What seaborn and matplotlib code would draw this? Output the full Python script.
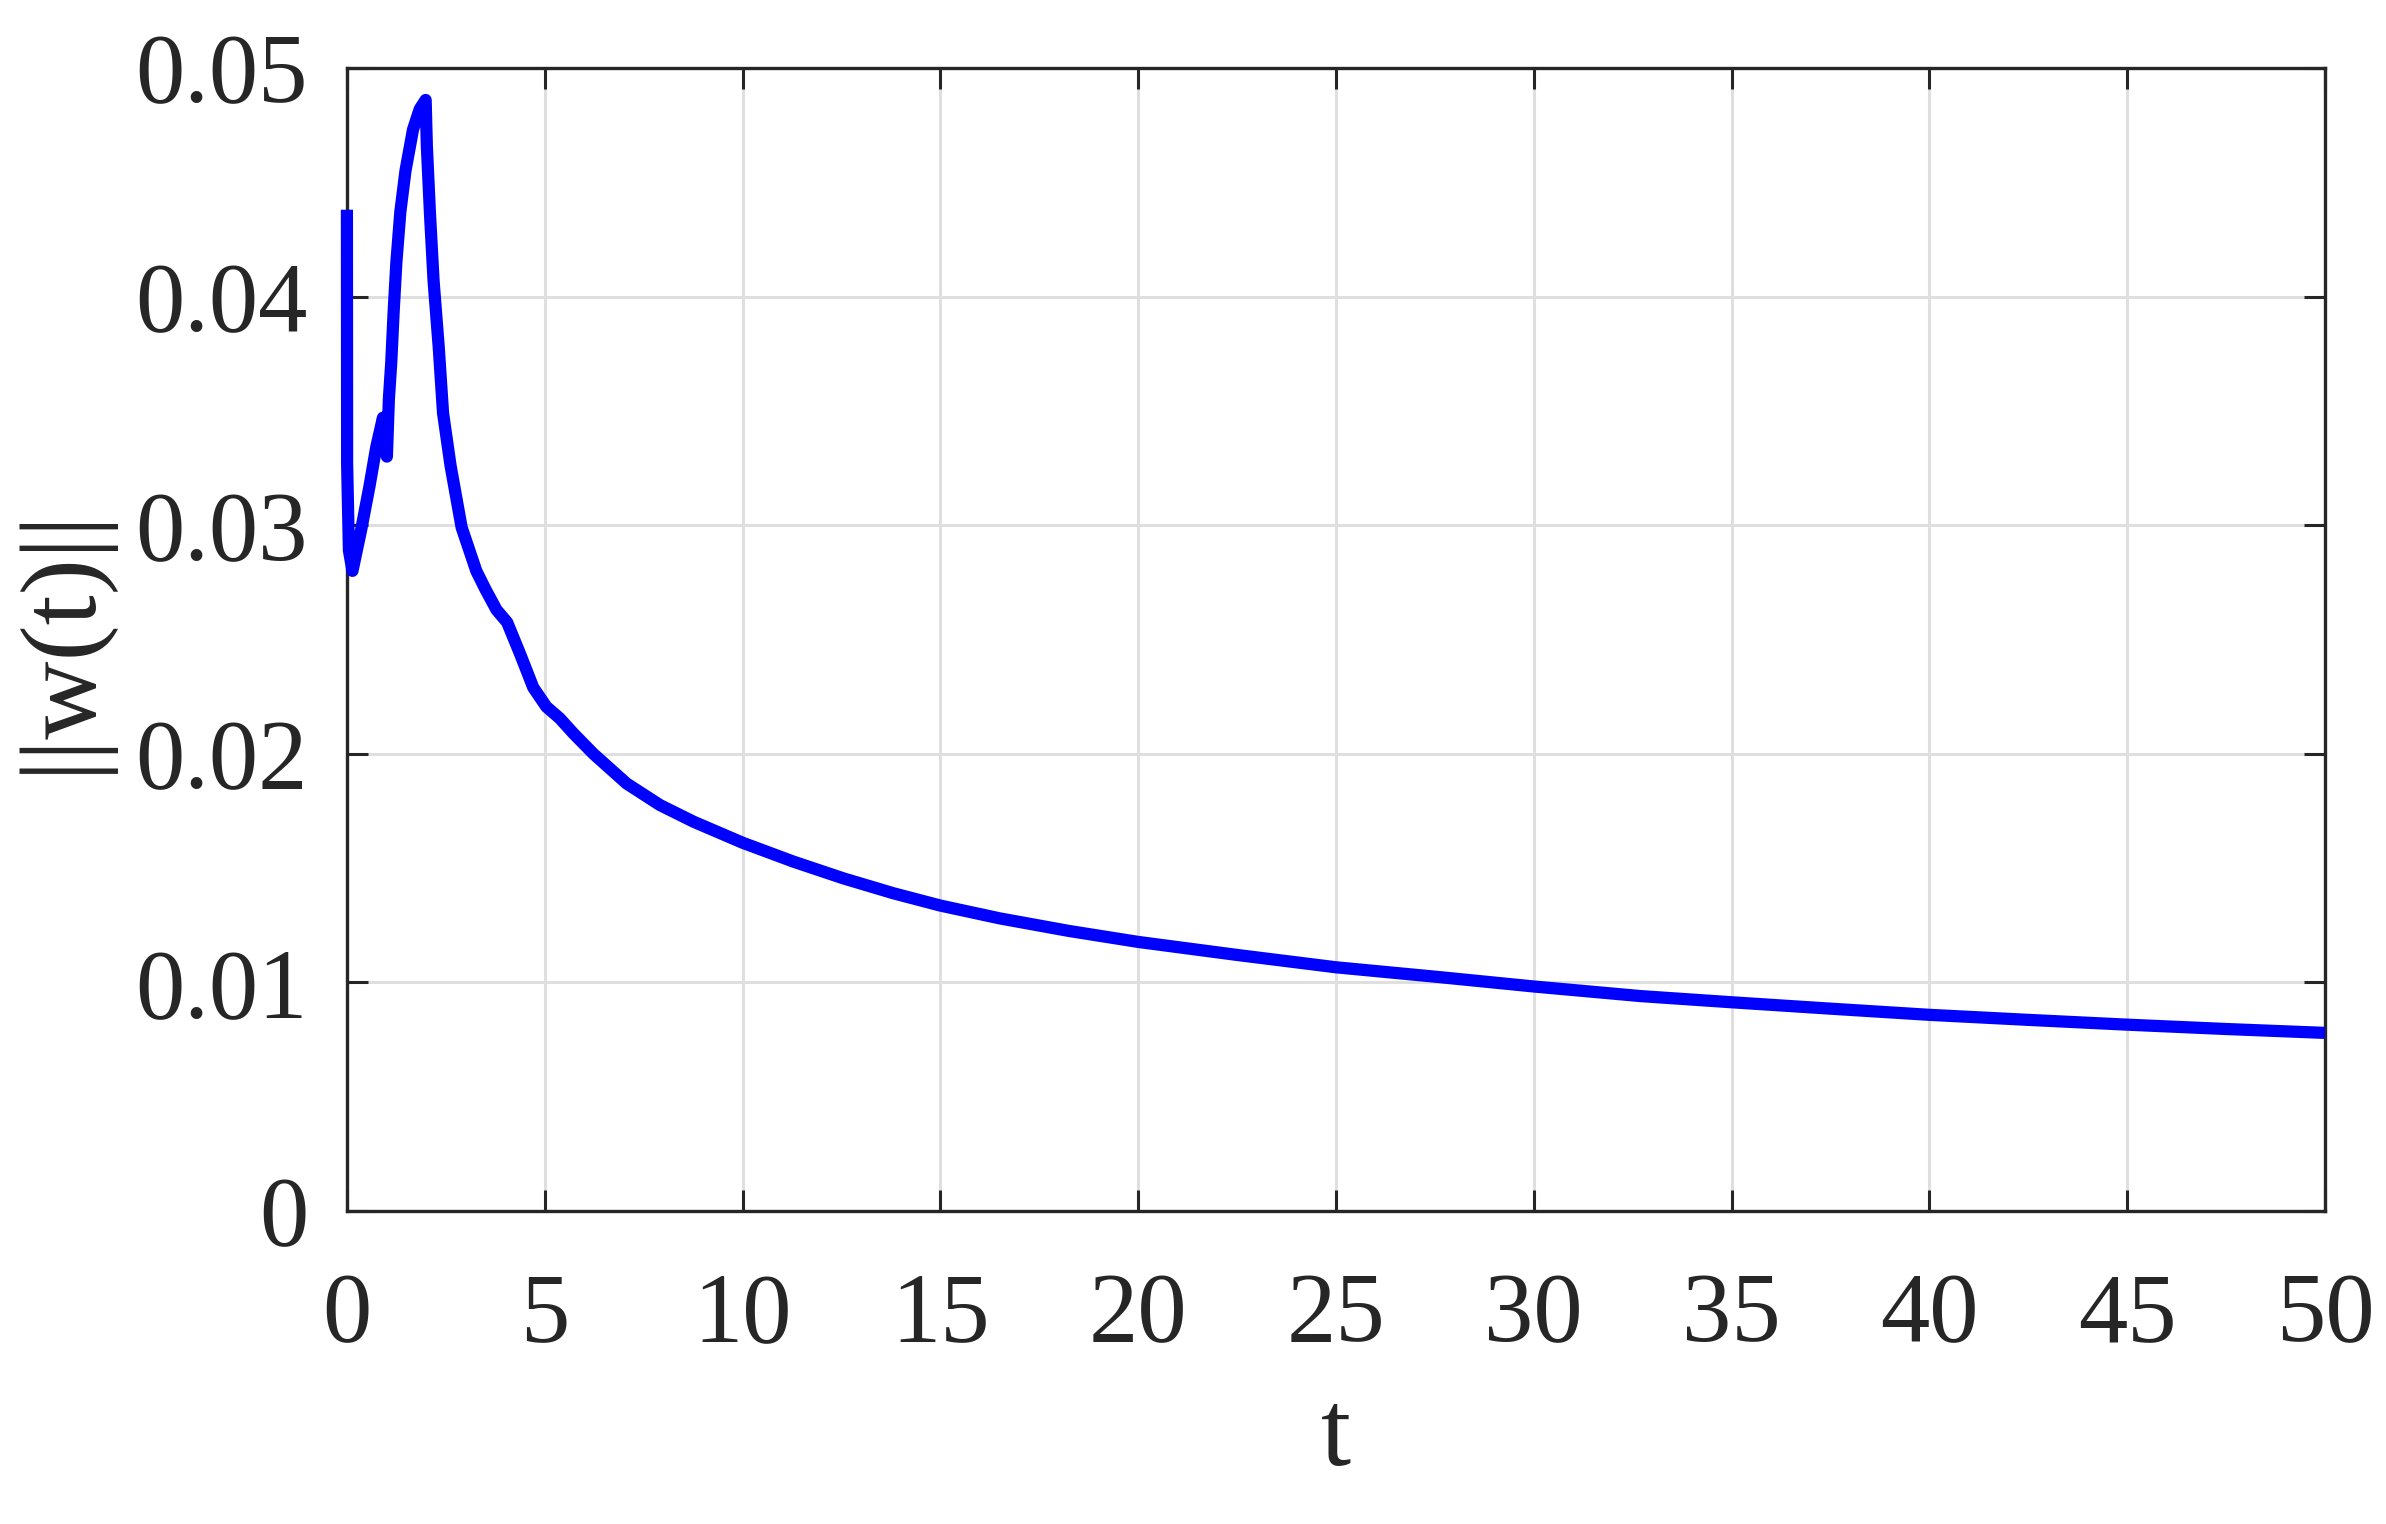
import matplotlib
matplotlib.use("Agg")
import matplotlib.pyplot as plt
import seaborn as sns
import pandas as pd

# data (t, ||w(t)||)
t_values = [0.0, 0.005, 0.05, 0.14, 0.36, 0.57, 0.74, 0.91, 1.01, 1.06, 1.12, 1.18,
            1.25, 1.35, 1.48, 1.67, 1.84, 1.99, 2.02, 2.10, 2.19, 2.32, 2.43, 2.62,
            2.90, 3.27, 3.50, 3.78, 4.05, 4.37, 4.71, 5.04, 5.38, 5.72, 6.23, 7.07,
            7.91, 8.76, 10.0, 11.29, 12.55, 13.81, 15.0, 16.5, 18.25, 20.0, 22.5,
            25.0, 27.5, 30.0, 32.7, 35.0, 37.5, 40.0, 42.5, 45.0, 47.5, 50.0]
w_norm = [0.0438, 0.0327, 0.0289, 0.0280, 0.0298, 0.0317, 0.0334, 0.0347, 0.0330,
          0.0355, 0.0371, 0.0393, 0.0415, 0.0437, 0.0455, 0.0473, 0.0482, 0.0486,
          0.0466, 0.0436, 0.0407, 0.0378, 0.0349, 0.0326, 0.0299, 0.0280, 0.0272,
          0.0263, 0.02575, 0.0244, 0.0229, 0.02206, 0.02155, 0.0209, 0.0200,
          0.0187, 0.01776, 0.01703, 0.01611, 0.01528, 0.01455, 0.0139, 0.01336,
          0.0128, 0.01225, 0.01177, 0.0112, 0.01066, 0.01025, 0.00982, 0.0094,
          0.00913, 0.00885, 0.00858, 0.00836, 0.00815, 0.00796, 0.00779]
x_ticks = [0, 5, 10, 15, 20, 25, 30, 35, 40, 45, 50]
y_ticks = [0, 0.01, 0.02, 0.03, 0.04, 0.05]
y_tick_labels = ["0", "0.01", "0.02", "0.03", "0.04", "0.05"]

sns.set_theme(style="whitegrid")
plt.rcParams['font.family'] = ['Liberation Serif', 'DejaVu Serif']

df = pd.DataFrame({"t": t_values, "w": w_norm})

fig = plt.figure(figsize=(23.86, 15.24), dpi=100)
ax = fig.add_axes([0.1454, 0.2054, 0.9744 - 0.1454, 0.9554 - 0.2054])

sns.lineplot(data=df, x="t", y="w", ax=ax, color=(0, 0, 1), linewidth=8.8,
             sort=False, estimator=None, solid_capstyle="butt",
             solid_joinstyle="round", clip_on=False, zorder=3)

ax.set_xlim(0, 50)
ax.set_ylim(0, 0.05)
ax.set_xticks(x_ticks)
ax.set_xticklabels([str(v) for v in x_ticks])
ax.set_yticks(y_ticks)
ax.set_yticklabels(y_tick_labels)

ax.grid(True, color="#dfdfdf", linewidth=2.2)
ax.set_axisbelow(True)
for s in ax.spines.values():
    s.set_visible(True)
    s.set_color("#262626")
    s.set_linewidth(2.4)

ax.tick_params(axis="both", direction="in", length=15, width=2.2, colors="#262626",
               labelsize=71, top=True, right=True, bottom=True, left=True)
ax.tick_params(axis="x", pad=44)
ax.tick_params(axis="y", pad=28)

ax.set_xlabel("t", fontsize=78, color="#262626", labelpad=20)
ax.set_ylabel("||w(t)||", fontsize=78, color="#262626", labelpad=18)

fig.savefig("out.png", dpi=100, facecolor="white")
